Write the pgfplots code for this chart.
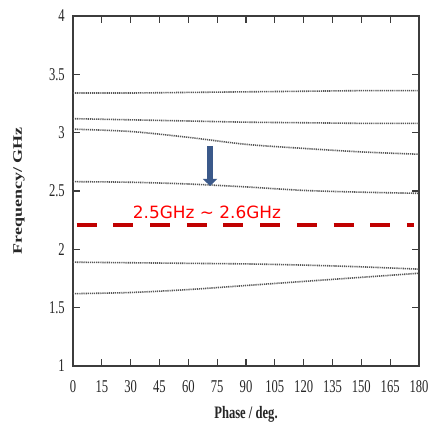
\documentclass[border=0pt]{standalone}
\usepackage{graphicx}
\usepackage{pgfplots}
\pgfplotsset{compat=1.18}
\usetikzlibrary{arrows.meta}
\usepackage{fontspec}
\setmainfont{Liberation Serif}
\newfontfamily\annofont{DejaVu Sans}

\definecolor{axisgray}{RGB}{60,60,60}
\definecolor{curvegray}{RGB}{85,85,85}
\definecolor{bandred}{RGB}{192,0,0}
\definecolor{arrowblue}{RGB}{59,89,138}

% dispersion branches, frequency (GHz) against phase (deg)
\pgfplotstableread{
ph f1 f2 f3 f4 f5 f6
0   3.340 3.120 3.030 2.580 1.890 1.620
30  3.340 3.110 3.010 2.575 1.885 1.630
60  3.345 3.100 2.960 2.560 1.880 1.655
90  3.350 3.090 2.900 2.535 1.875 1.690
120 3.355 3.085 2.865 2.505 1.865 1.725
150 3.360 3.080 2.835 2.490 1.850 1.760
180 3.360 3.080 2.815 2.480 1.830 1.795
}\branches

\begin{document}
\begin{tikzpicture}
\begin{axis}[
  scale only axis,
  width=346bp, height=350bp,
  xmin=0, xmax=180, ymin=1, ymax=4,
  xtick distance=15, ytick distance=0.5,
  tick align=inside, tick pos=both,
  major tick length=7bp,
  axis line style={axisgray, line width=1.2bp},
  tick style={axisgray, line width=1.2bp},
  /pgf/number format/assume math mode=true,
  tick label style={font=\fontsize{18bp}{20bp}\selectfont, text=black!85},
  xticklabel={\scalebox{0.7}[1]{\pgfmathprintnumber{\tick}}},
  yticklabel={\scalebox{0.7}[1]{\pgfmathprintnumber{\tick}}},
  xticklabel style={anchor=base, inner sep=0pt, yshift=-26bp},
  yticklabel style={anchor=east, inner sep=0pt, xshift=-8bp},
  xlabel={\scalebox{0.72}[1]{\bfseries Phase / deg.}},
  ylabel={\scalebox{1}[0.72]{\bfseries Frequency/ GHz}},
  every axis x label/.style={at={(axis description cs:0.5,-0.1486)}, anchor=base,
    font=\fontsize{17.5bp}{20bp}\selectfont, text=black!85},
  every axis y label/.style={at={(axis description cs:-0.156,0.5)}, rotate=90, anchor=center,
    font=\fontsize{18bp}{20bp}\selectfont, text=black!85},
  clip=false,
]
\foreach \c in {f1,f2,f3,f4,f5,f6}{
  \addplot[curvegray, line width=1.6bp, dash pattern=on 1.2bp off 0.9bp, smooth] table[x=ph, y=\c] {\branches};
}
% target band marker
\addplot[bandred, line width=4.5bp, dash pattern=on 20bp off 16.7bp] coordinates {(1.9,2.21) (177.4,2.21)};
\node[text=red, font=\annofont\fontsize{16.9bp}{18bp}\selectfont] at (axis cs:69.7,2.32) {2.5GHz \textasciitilde{} 2.6GHz};
\draw[arrowblue, line width=6bp, -{Triangle[width=14bp, length=7bp]}] (axis cs:71.3,2.886) -- (axis cs:71.3,2.543);
\coordinate (o) at (rel axis cs:0,0);
\end{axis}
\pgfresetboundingbox
\path (o) ++(-73bp,-57bp) rectangle ++(429bp,423bp);
\end{tikzpicture}
\end{document}
